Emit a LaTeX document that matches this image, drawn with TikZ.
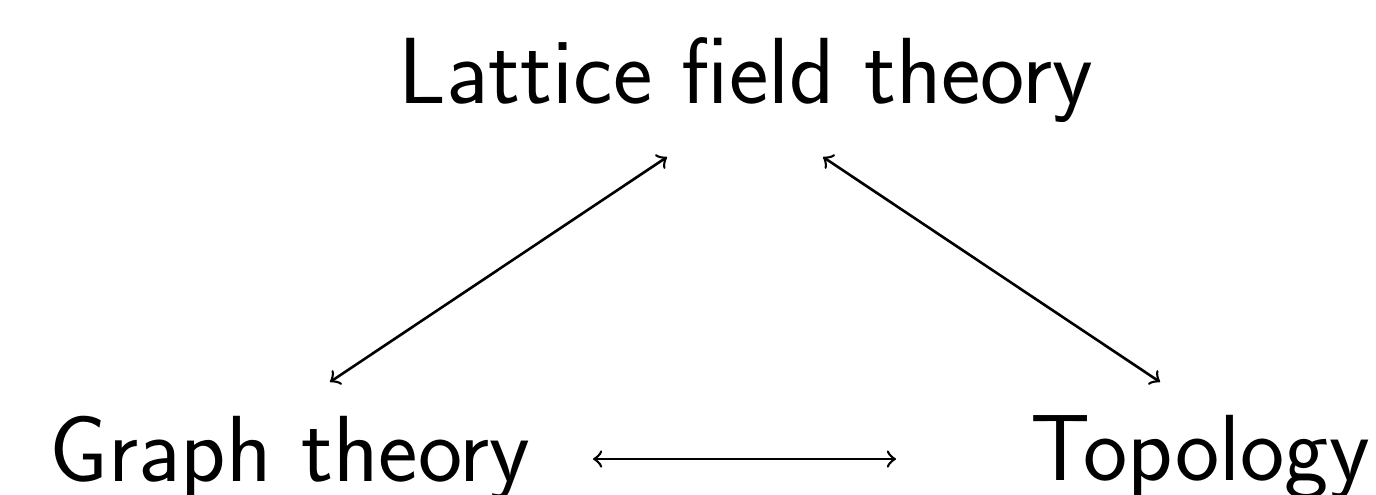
\documentclass[tikz,border=0pt]{standalone}
\begin{document}
\begin{tikzpicture}[x=1pt,y=1pt,
  lbl/.style={font=\sffamily\fontsize{23.5}{28}\selectfont, anchor=base, inner sep=0pt},
  link/.style={<->, line width=0.65pt}]
\useasboundingbox (0,0) rectangle (344,-123.5);
\node[lbl] (lft) at (186.5,-25.75) {Lattice field theory};
\node[lbl] (gt) at (72.5,-120.25) {Graph theory};
\node[lbl] (top) at (300,-120) {Topology};
\draw[link] ([shift={(10,24.75)}]gt.base) -- ([shift={(-19.75,-13.5)}]lft.base);
\draw[link] ([shift={(19.25,-13.5)}]lft.base) -- ([shift={(-10,24.5)}]top.base);
\draw[link] ([shift={(75.75,5.5)}]gt.base) -- ([shift={(-76,5.25)}]top.base);
\end{tikzpicture}
\end{document}
